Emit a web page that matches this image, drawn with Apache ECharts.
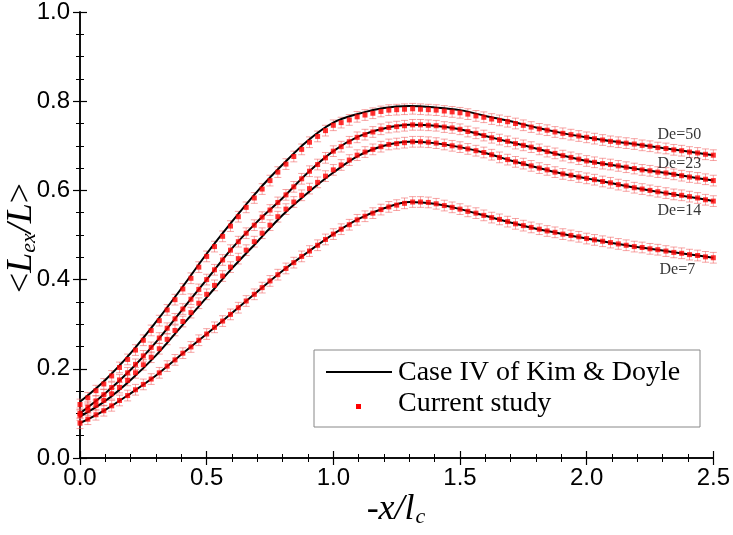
<!DOCTYPE html>
<html><head><meta charset="utf-8">
<script src="https://cdn.jsdelivr.net/npm/echarts@6/dist/echarts.min.js"></script>
<style>html,body{margin:0;padding:0;background:#fff}#c{width:733px;height:535px}</style>
</head><body><div id="c"></div>
<script>
// ---- data ----
const lineX = [0,0.1,0.2,0.3,0.4,0.5,0.6,0.7,0.8,0.9,1.0,1.1,1.2,1.3,1.4,1.5,1.6,1.7,1.8,1.9,2.0,2.1,2.2,2.3,2.4,2.5];
const lineDe50 = [0.126,0.175,0.235,0.305,0.380,0.458,0.530,0.598,0.658,0.712,0.752,0.772,0.785,0.789,0.786,0.780,0.767,0.755,0.741,0.729,0.719,0.710,0.703,0.695,0.687,0.679];
const lineDe23 = [0.100,0.145,0.198,0.260,0.330,0.400,0.470,0.530,0.583,0.640,0.688,0.721,0.739,0.747,0.745,0.737,0.722,0.708,0.694,0.679,0.666,0.657,0.648,0.640,0.631,0.622];
const lineDe14 = [0.093,0.128,0.175,0.230,0.295,0.360,0.425,0.485,0.545,0.595,0.640,0.678,0.700,0.709,0.706,0.697,0.684,0.667,0.652,0.638,0.627,0.616,0.605,0.595,0.586,0.576];
const lineDe7  = [0.078,0.108,0.145,0.185,0.232,0.278,0.325,0.373,0.420,0.462,0.502,0.536,0.560,0.574,0.570,0.558,0.543,0.528,0.514,0.503,0.492,0.482,0.473,0.465,0.457,0.449];

const markerX = [0,0.031,0.063,0.094,0.125,0.156,0.188,0.219,0.25,0.281,0.313,0.344,0.375,0.406,0.438,0.469,0.5,0.531,0.563,0.594,0.625,0.656,0.688,0.719,0.75,0.781,0.813,0.844,0.875,0.906,0.938,0.969,1.0,1.031,1.063,1.094,1.125,1.156,1.188,1.219,1.25,1.281,1.313,1.344,1.375,1.406,1.438,1.469,1.5,1.531,1.563,1.594,1.625,1.656,1.688,1.719,1.75,1.781,1.813,1.844,1.875,1.906,1.938,1.969,2.0,2.031,2.063,2.094,2.125,2.156,2.188,2.219,2.25,2.281,2.313,2.344,2.375,2.406,2.438,2.469,2.5];
const markDe50 = [0.120,0.135,0.151,0.166,0.184,0.203,0.221,0.242,0.264,0.286,
0.308,0.332,0.355,0.379,0.403,0.428,0.452,0.474,0.497,0.520,
0.541,0.562,0.583,0.603,0.622,0.641,0.659,0.676,0.692,0.708,
0.721,0.734,0.746,0.752,0.758,0.765,0.769,0.773,0.777,0.780,
0.781,0.782,0.783,0.782,0.781,0.780,0.778,0.776,0.774,0.771,
0.767,0.764,0.760,0.757,0.754,0.750,0.746,0.742,0.738,0.735,
0.731,0.728,0.725,0.722,0.719,0.716,0.713,0.710,0.708,0.706,
0.704,0.701,0.699,0.696,0.694,0.691,0.689,0.686,0.684,0.681,0.679];
const markDe23 = [0.100,0.114,0.128,0.142,0.158,0.175,0.191,0.210,0.229,0.248,
0.269,0.291,0.312,0.334,0.356,0.378,0.400,0.422,0.444,0.466,
0.485,0.504,0.522,0.540,0.556,0.573,0.590,0.608,0.626,0.643,
0.658,0.673,0.688,0.698,0.709,0.719,0.725,0.731,0.737,0.741,
0.743,0.745,0.747,0.747,0.746,0.745,0.742,0.740,0.737,0.732,
0.728,0.723,0.718,0.714,0.710,0.705,0.701,0.697,0.692,0.687,
0.683,0.678,0.674,0.670,0.666,0.663,0.660,0.658,0.655,0.652,
0.649,0.646,0.644,0.641,0.639,0.636,0.633,0.630,0.628,0.625,0.622];
const markDe14 = [0.096,0.107,0.118,0.129,0.144,0.158,0.174,0.191,0.209,0.226,
0.245,0.266,0.286,0.306,0.326,0.347,0.367,0.387,0.408,0.428,
0.447,0.466,0.485,0.504,0.522,0.541,0.558,0.574,0.589,0.604,
0.618,0.632,0.646,0.657,0.668,0.679,0.686,0.692,0.698,0.703,
0.705,0.707,0.709,0.709,0.708,0.706,0.703,0.700,0.697,0.693,
0.689,0.685,0.680,0.674,0.669,0.664,0.660,0.655,0.650,0.646,
0.641,0.637,0.634,0.630,0.627,0.624,0.620,0.617,0.613,0.610,
0.606,0.603,0.600,0.597,0.594,0.591,0.589,0.586,0.583,0.579,0.576];
const markDe7 = [0.078,0.087,0.097,0.106,0.117,0.129,0.140,0.153,0.165,0.177,
0.191,0.206,0.220,0.235,0.249,0.264,0.278,0.293,0.307,0.322,
0.337,0.352,0.367,0.382,0.397,0.411,0.425,0.438,0.452,0.464,
0.477,0.490,0.502,0.513,0.523,0.534,0.542,0.549,0.557,0.563,
0.567,0.571,0.574,0.574,0.573,0.570,0.566,0.562,0.558,0.553,
0.549,0.544,0.539,0.535,0.530,0.525,0.521,0.517,0.513,0.509,
0.506,0.502,0.499,0.496,0.492,0.489,0.486,0.483,0.480,0.477,
0.474,0.472,0.469,0.467,0.464,0.461,0.459,0.456,0.454,0.451,0.449];
const errHalf = [0.012, 0.012, 0.012, 0.012];

const curveNames = ['De=50','De=23','De=14','De=7'];
const curveLabelX = [2.366, 2.366, 2.366, 2.358];
const curveLabelY = [0.724, 0.659, 0.554, 0.421];

const lineName = 'Case IV of Kim & Doyle';
const markName = 'Current study';
const xMin = 0, xMax = 2.5, xStep = 0.5;
const yMin = 0, yMax = 1.0, yStep = 0.2;

// ---- build ----
const lines = [lineDe50, lineDe23, lineDe14, lineDe7];
const marks = [markDe50, markDe23, markDe14, markDe7];
const series = [];
const errColor = 'rgba(240,90,90,0.55)';
marks.forEach((m, i) => {
  series.push({
    type: 'custom', z: 1, silent: true,
    data: markerX.map((x, j) => [x, m[j] - errHalf[i], m[j] + errHalf[i]]),
    encode: { x: 0, y: [1, 2] },
    renderItem: (params, api) => {
      const x = api.value(0);
      const p1 = api.coord([x, api.value(1)]);
      const p2 = api.coord([x, api.value(2)]);
      const w = 3.5, st = { stroke: errColor, lineWidth: 1 };
      return { type: 'group', children: [
        { type: 'line', shape: { x1: p1[0], y1: p1[1], x2: p2[0], y2: p2[1] }, style: st },
        { type: 'line', shape: { x1: p1[0]-w, y1: p1[1], x2: p1[0]+w, y2: p1[1] }, style: st },
        { type: 'line', shape: { x1: p2[0]-w, y1: p2[1], x2: p2[0]+w, y2: p2[1] }, style: st }
      ]};
    }
  });
});
lines.forEach(l => {
  series.push({
    type: 'line', name: lineName, z: 2, smooth: 0.35, symbol: 'none',
    lineStyle: { color: '#000', width: 2 },
    data: lineX.map((x, j) => [x, l[j]])
  });
});
marks.forEach(m => {
  series.push({
    type: 'scatter', name: markName, z: 3, symbol: 'rect', symbolSize: 5,
    itemStyle: { color: '#f00' },
    data: markerX.map((x, j) => [x, m[j]])
  });
});
series.push({
  type: 'scatter', z: 4, symbolSize: 0, silent: true,
  data: curveNames.map((n, i) => [curveLabelX[i], curveLabelY[i], n]),
  label: { show: true, position: 'inside', formatter: p => p.value[2],
    fontFamily: 'Liberation Serif', fontSize: 16, color: '#000' }
});

const axisLineStyle = { lineStyle: { color: '#000', width: 1.5 } };
const tickStyle = { inside: true, length: 7, lineStyle: { color: '#000', width: 1.2 } };
const minorStyle = { show: true, length: 4, lineStyle: { color: '#000', width: 1 } };
const labelStyle = { color: '#000', fontFamily: 'Liberation Sans', fontSize: 24 };

const chart = echarts.init(document.getElementById('c'), null, { renderer: 'canvas' });
chart.setOption({
  animation: false,
  backgroundColor: '#fff',
  grid: { left: 80, right: 17, top: 12, bottom: 77 },
  xAxis: [
    { type: 'value', min: xMin, max: xMax, interval: xStep, axisLine: axisLineStyle,
      axisTick: tickStyle, minorTick: Object.assign({ splitNumber: 5 }, minorStyle),
      splitLine: { show: false },
      axisLabel: Object.assign({ margin: 8, formatter: v => v.toFixed(1) }, labelStyle) },
    { type: 'value', position: 'top', min: xMin, max: xMax, interval: xStep, axisLine: axisLineStyle,
      axisTick: tickStyle, minorTick: Object.assign({ splitNumber: 5 }, minorStyle),
      splitLine: { show: false }, axisLabel: { show: false } }
  ],
  yAxis: [
    { type: 'value', min: yMin, max: yMax, interval: yStep, axisLine: axisLineStyle,
      axisTick: tickStyle, minorTick: Object.assign({ splitNumber: 4 }, minorStyle),
      splitLine: { show: false },
      axisLabel: Object.assign({ margin: 10, formatter: v => v.toFixed(1) }, labelStyle) },
    { type: 'value', position: 'right', min: yMin, max: yMax, interval: yStep, axisLine: axisLineStyle,
      axisTick: tickStyle, minorTick: Object.assign({ splitNumber: 4 }, minorStyle),
      splitLine: { show: false }, axisLabel: { show: false } }
  ],
  series: series,
  graphic: [
    { type: 'text', z: 100, x: 396, y: 510, style: {
      text: '{a|-x/l}{b|c}', align: 'center', verticalAlign: 'middle',
      rich: {
        a: { fontFamily: 'Liberation Serif', fontStyle: 'italic', fontSize: 36, lineHeight: 36 },
        b: { fontFamily: 'Liberation Serif', fontStyle: 'italic', fontSize: 22, lineHeight: 12, verticalAlign: 'bottom', padding: [0,0,0,1] }
      } } },
    { type: 'text', z: 100, x: 22, y: 238, rotation: Math.PI / 2, style: {
      text: '{a|<}{b|L}{c|ex}{b|/L}{a|>}', align: 'center', verticalAlign: 'middle',
      rich: {
        a: { fontFamily: 'Liberation Serif', fontSize: 36, lineHeight: 36 },
        b: { fontFamily: 'Liberation Serif', fontStyle: 'italic', fontSize: 36, lineHeight: 36 },
        c: { fontFamily: 'Liberation Serif', fontStyle: 'italic', fontSize: 22, lineHeight: 12, verticalAlign: 'bottom' }
      } } },
    { type: 'rect', z: 100, shape: { x: 314, y: 350, width: 386, height: 77 },
      style: { fill: '#fff', stroke: '#888', lineWidth: 1 } },
    { type: 'line', z: 101, shape: { x1: 326, y1: 372, x2: 392, y2: 372 },
      style: { stroke: '#000', lineWidth: 2 } },
    { type: 'text', z: 101, x: 398, y: 373, style: { text: lineName, verticalAlign: 'middle',
      fontFamily: 'Liberation Serif', fontSize: 28, fill: '#000' } },
    { type: 'rect', z: 101, shape: { x: 356, y: 404, width: 5, height: 5 }, style: { fill: '#f00' } },
    { type: 'text', z: 101, x: 398, y: 404, style: { text: markName, verticalAlign: 'middle',
      fontFamily: 'Liberation Serif', fontSize: 28, fill: '#000' } }
  ]
});
</script></body></html>
